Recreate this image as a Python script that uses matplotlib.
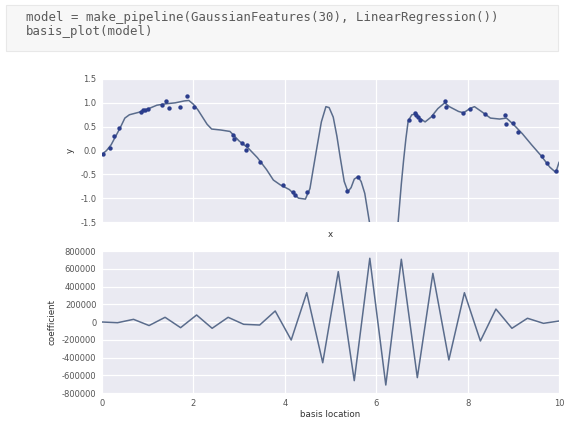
import matplotlib
matplotlib.use("Agg")
import matplotlib.pyplot as plt
from matplotlib.patches import FancyBboxPatch

# ---- data ----
pts_x = [0.02, 0.18, 0.26, 0.38, 0.85, 0.90, 0.93, 1.01, 1.32, 1.40, 1.47, 1.71,
         1.87, 2.01, 2.86, 2.89, 3.06, 3.17, 3.15, 3.46, 3.97, 4.19, 4.22, 4.49,
         5.37, 5.61, 6.72, 6.85, 6.88, 6.92, 6.96, 7.24, 7.51, 7.53, 7.91, 8.05,
         8.38, 8.82, 8.83, 8.99, 9.11, 9.62, 9.73, 9.93]
pts_y = [-0.07, 0.06, 0.30, 0.48, 0.81, 0.84, 0.86, 0.88, 0.95, 1.04, 0.90, 0.92,
         1.15, 0.91, 0.33, 0.24, 0.15, 0.12, 0.01, -0.25, -0.72, -0.88, -0.93, -0.88,
         -0.85, -0.56, 0.63, 0.78, 0.74, 0.71, 0.65, 0.72, 1.04, 0.92, 0.79, 0.88,
         0.76, 0.74, 0.55, 0.57, 0.39, -0.12, -0.27, -0.44]

fit_x = [0.0, 0.1, 0.2, 0.3, 0.4, 0.5, 0.6, 0.8, 1.0, 1.2, 1.4, 1.6, 1.8, 1.9,
         2.0, 2.1, 2.2, 2.3, 2.4, 2.6, 2.8, 2.9, 3.0, 3.2, 3.4, 3.6, 3.75, 3.9,
         4.1, 4.3, 4.45, 4.55, 4.62, 4.70, 4.80, 4.90, 4.97, 5.06, 5.14, 5.21,
         5.30, 5.38, 5.45, 5.52, 5.60, 5.67, 5.75, 5.86, 6.0, 6.17, 6.35, 6.48,
         6.55, 6.60, 6.65, 6.70, 6.78, 6.85, 6.95, 7.07, 7.2, 7.35, 7.5, 7.6,
         7.8, 7.91, 8.05, 8.15, 8.3, 8.5, 8.7, 8.85, 9.0, 9.2, 9.4, 9.6, 9.8,
         9.93, 10.0]
fit_y = [-0.08, 0.00, 0.12, 0.30, 0.48, 0.68, 0.75, 0.80, 0.87, 0.95, 0.98, 1.00,
         1.04, 1.05, 0.97, 0.85, 0.70, 0.55, 0.45, 0.43, 0.40, 0.30, 0.20, 0.05,
         -0.15, -0.40, -0.62, -0.72, -0.82, -1.00, -1.02, -0.80, -0.40, 0.05, 0.60,
         0.92, 0.90, 0.70, 0.30, -0.13, -0.65, -0.86, -0.78, -0.60, -0.55, -0.65,
         -0.90, -1.55, -3.0, -4.5, -3.0, -1.50, -0.70, -0.20, 0.25, 0.62, 0.75,
         0.76, 0.68, 0.60, 0.70, 0.88, 1.00, 0.92, 0.82, 0.79, 0.88, 0.92, 0.82,
         0.68, 0.66, 0.68, 0.55, 0.35, 0.12, -0.10, -0.35, -0.46, -0.25]

basis_loc = [0.0, 0.34, 0.69, 1.03, 1.38, 1.72, 2.07, 2.41, 2.76, 3.10, 3.45, 3.79,
             4.14, 4.48, 4.83, 5.17, 5.52, 5.86, 6.21, 6.55, 6.90, 7.24, 7.59, 7.93,
             8.28, 8.62, 8.97, 9.31, 9.66, 10.0]
coef = [0, -8000, 30000, -40000, 53000, -64000, 79000, -71000, 53000, -26000,
        -34000, 124000, -203000, 330000, -459000, 567000, -661000, 718000, -710000,
        707000, -627000, 548000, -428000, 330000, -214000, 146000, -71000, 42000,
        -15000, 11000]

top_yticks = [1.5, 1.0, 0.5, 0.0, -0.5, -1.0, -1.5]
bot_yticks = [800000, 600000, 400000, 200000, 0, -200000, -400000, -600000, -800000]
xticks = [0, 2, 4, 6, 8, 10]
code_lines = ["model = make_pipeline(GaussianFeatures(30), LinearRegression())",
              "basis_plot(model)"]

# ---- figure ----
fig = plt.figure(figsize=(5.65, 4.23), dpi=100)
fig.patch.set_facecolor("white")

# code cell
box = FancyBboxPatch((6 / 565, 1 - 51 / 423), 552 / 565, 46 / 423,
                     boxstyle="square,pad=0", transform=fig.transFigure,
                     facecolor="#f7f7f7", edgecolor="#e8e8e8", linewidth=0.8)
fig.patches.append(box)
fig.text(26 / 565, 1 - 18 / 423, code_lines[0], family="DejaVu Sans Mono",
         fontsize=8.9, color="#5a5a5a", va="center", ha="left")
fig.text(26 / 565, 1 - 32 / 423, code_lines[1], family="DejaVu Sans Mono",
         fontsize=8.9, color="#5a5a5a", va="center", ha="left")

line_col = "#5a6c8c"
pt_col = "#2b3d8c"
bg = "#EAEAF2"
tick_col = "#555555"


def style(ax):
    ax.set_facecolor(bg)
    for s in ax.spines.values():
        s.set_visible(False)
    ax.grid(True, color="white", linewidth=0.9)
    ax.set_axisbelow(True)
    ax.tick_params(length=0, labelsize=6.0, colors=tick_col, pad=4)


ax1 = fig.add_axes([102 / 565, 1 - 222 / 423, 457 / 565, 143 / 423])
style(ax1)
ax1.plot(fit_x, fit_y, color=line_col, linewidth=1.1, zorder=2)
ax1.scatter(pts_x, pts_y, s=10, color=pt_col, zorder=3, linewidths=0)
ax1.set_xlim(0, 10)
ax1.set_ylim(-1.5, 1.5)
ax1.set_yticks(top_yticks)
ax1.set_yticklabels([f"{v:.1f}" for v in top_yticks])
ax1.set_xticks(xticks)
ax1.set_xticklabels([])
ax1.set_xlabel("x", fontsize=6.3, color="#333333", labelpad=2)
ax1.set_ylabel("y", fontsize=6.3, color="#333333", labelpad=4)

ax2 = fig.add_axes([102 / 565, 1 - 393 / 423, 457 / 565, 142 / 423])
style(ax2)
ax2.plot(basis_loc, coef, color=line_col, linewidth=1.1)
ax2.set_xlim(0, 10)
ax2.set_ylim(-800000, 800000)
ax2.set_yticks(bot_yticks)
ax2.set_yticklabels([str(v) for v in bot_yticks])
ax2.set_xticks(xticks)
ax2.set_xticklabels([str(v) for v in xticks])
ax2.set_xlabel("basis location", fontsize=6.3, color="#333333", labelpad=2)
ax2.set_ylabel("coefficient", fontsize=6.3, color="#333333", labelpad=4)

fig.savefig("out.png", dpi=100, facecolor="white")
